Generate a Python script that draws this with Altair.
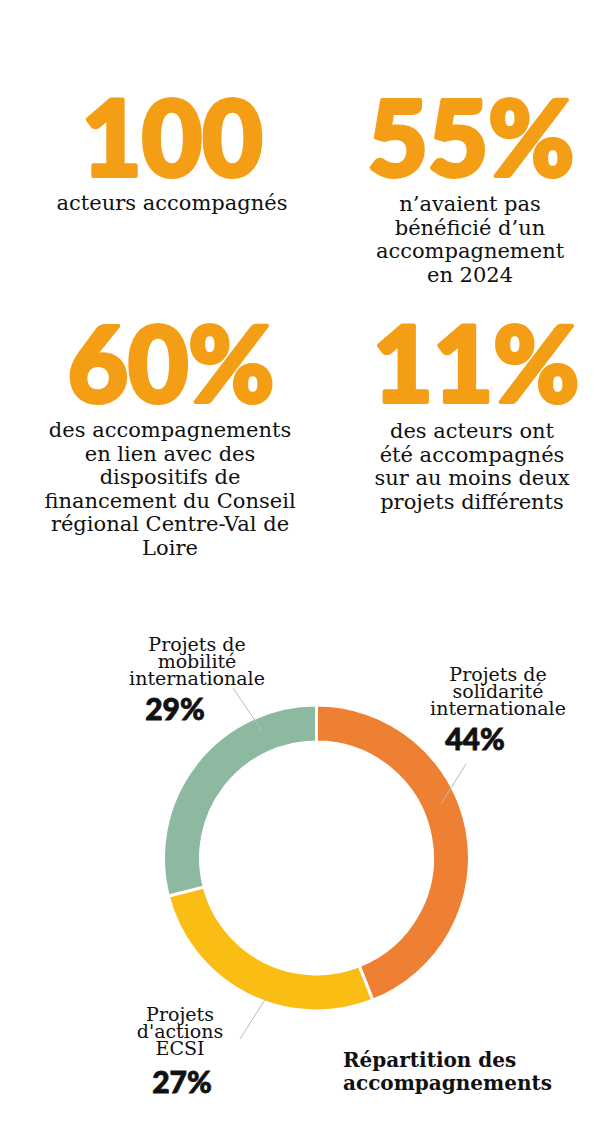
import altair as alt
import pandas as pd

# ---------------- data ----------------
stat_values = ["100", "55%", "60%", "11%"]
stat_captions = [
    ["acteurs accompagnés"],
    ["n\u2019avaient pas", "bénéficié d\u2019un", "accompagnement", "en 2024"],
    ["des accompagnements", "en lien avec des", "dispositifs de",
     "financement du Conseil", "régional Centre-Val de", "Loire"],
    ["des acteurs ont", "été accompagnés", "sur au moins deux", "projets différents"],
]

categories = ["Projets de solidarité internationale",
              "Projets d'actions ECSI",
              "Projets de mobilité internationale"]
cat_label_lines = [
    ["Projets de", "solidarité", "internationale"],
    ["Projets", "d'actions", "ECSI"],
    ["Projets de", "mobilité", "internationale"],
]
shares = [44, 27, 29]
share_labels = ["44%", "27%", "29%"]
colors = ["#EE8034", "#F9BD14", "#8CB9A0"]
chart_title = ["Répartition des", "accompagnements"]

# ---------------- layout (reference pixel coordinates) ----------------
stat_pos = [(172, 176), (471, 176), (171, 402), (476, 402)]
caption_pos = [(172, 210, 23.5), (470, 211, 23.5), (170, 437, 23.6), (472, 438, 23.5)]
cat_label_pos = [(498, 681, 17), (180, 1021, 17), (197, 651, 17)]
share_pos = [(475, 750), (182, 1093), (175, 720)]
leaders = [((466, 764), (441, 804)), ((240, 1039), (268, 995)), ((233, 688), (262, 731))]
title_pos = (343, 1067, 23)
donut_center = (316.5, 858)

ORANGE = "#F49E16"

stats_df = pd.DataFrame({
    "text": stat_values,
    "x": [p[0] for p in stat_pos],
    "y": [p[1] for p in stat_pos],
})

cap_rows = []
for lines, (cx, cy, lh) in zip(stat_captions, caption_pos):
    for i, line in enumerate(lines):
        cap_rows.append({"text": line, "x": cx, "y": cy + i * lh})
cap_df = pd.DataFrame(cap_rows)

lab_rows = []
for lines, (cx, cy, lh) in zip(cat_label_lines, cat_label_pos):
    for i, line in enumerate(lines):
        lab_rows.append({"text": line, "x": cx, "y": cy + i * lh})
lab_df = pd.DataFrame(lab_rows)

share_df = pd.DataFrame({
    "text": share_labels,
    "x": [p[0] for p in share_pos],
    "y": [p[1] for p in share_pos],
})

lead_df = pd.DataFrame({
    "x": [a[0] for a, b in leaders], "y": [a[1] for a, b in leaders],
    "x2": [b[0] for a, b in leaders], "y2": [b[1] for a, b in leaders],
})

title_df = pd.DataFrame({
    "text": chart_title,
    "x": [title_pos[0]] * 2,
    "y": [title_pos[1] + i * title_pos[2] for i in range(2)],
})

donut_df = pd.DataFrame({"cat": categories, "value": shares, "order": [0, 1, 2]})

W, H = 591, 1126
xs = alt.Scale(domain=[8, 8 + W], nice=False, zero=False)
ys = alt.Scale(domain=[8, 8 + H], nice=False, zero=False, reverse=True)


def X(f="x"):
    return alt.X(f"{f}:Q", scale=xs, axis=None)


def Y(f="y"):
    return alt.Y(f"{f}:Q", scale=ys, axis=None)


SERIF = "DejaVu Serif"
SANS = "Lato"

stats = alt.Chart(stats_df).mark_text(
    font=SANS, fontSize=104, fontWeight=900, color=ORANGE,
    stroke=ORANGE, strokeWidth=4, strokeJoin="round",
    align="center", baseline="alphabetic"
).encode(x=X(), y=Y(), text="text:N")

caps = alt.Chart(cap_df).mark_text(
    font=SERIF, fontSize=21, color="#111111",
    align="center", baseline="alphabetic"
).encode(x=X(), y=Y(), text="text:N")

labs = alt.Chart(lab_df).mark_text(
    font=SERIF, fontSize=19, color="#111111",
    align="center", baseline="alphabetic"
).encode(x=X(), y=Y(), text="text:N")

shares_t = alt.Chart(share_df).mark_text(
    font=SANS, fontSize=30, fontWeight=900, color="#111111",
    stroke="#111111", strokeWidth=0.8,
    align="center", baseline="alphabetic"
).encode(x=X(), y=Y(), text="text:N")

leads = alt.Chart(lead_df).mark_rule(color="#BBBBBB", strokeWidth=1).encode(
    x=X(), y=Y(), x2="x2:Q", y2="y2:Q"
)

title_t = alt.Chart(title_df).mark_text(
    font=SERIF, fontSize=20, fontWeight="bold", color="#111111",
    align="left", baseline="alphabetic"
).encode(x=X(), y=Y(), text="text:N")

donut = alt.Chart(donut_df).mark_arc(
    innerRadius=116, outerRadius=153, stroke="white", strokeWidth=3
).encode(
    theta=alt.Theta("value:Q", stack=True),
    color=alt.Color("cat:N", scale=alt.Scale(domain=categories, range=colors), legend=None),
    order=alt.Order("order:Q"),
    x=alt.value(donut_center[0] - 8),
    y=alt.value(donut_center[1] - 8),
)

chart = alt.layer(donut, leads, stats, caps, labs, shares_t, title_t).properties(
    width=W, height=H, padding=0,
    autosize=alt.AutoSizeParams(type="none"),
    background="white",
).configure_view(stroke=None)

chart.save("out.html", embed_options={"renderer": "svg", "actions": False})
